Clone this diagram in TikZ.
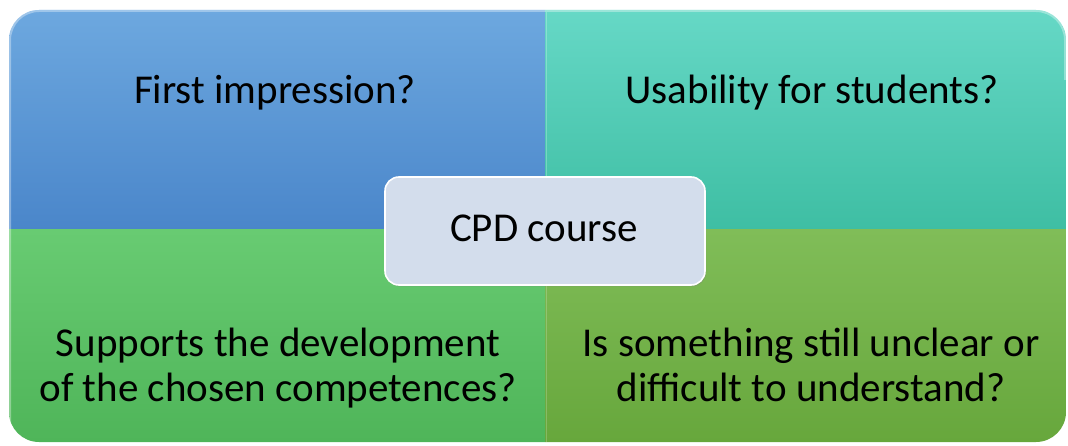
\documentclass[tikz,border=0pt]{standalone}
\usepackage{fontspec}
\setmainfont{Carlito}
\usetikzlibrary{shadows}

\definecolor{tlTop}{HTML}{6DA8DF}
\definecolor{tlBot}{HTML}{4A86CA}
\definecolor{trTop}{HTML}{66D8C6}
\definecolor{trBot}{HTML}{3EBEA3}
\definecolor{blTop}{HTML}{68CB72}
\definecolor{blBot}{HTML}{4FB559}
\definecolor{brTop}{HTML}{80BD58}
\definecolor{brBot}{HTML}{67A73C}
\definecolor{hubFill}{HTML}{D3DDEC}

\begin{document}
\begin{tikzpicture}[x=1pt,y=-1pt,
  label/.style={font=\fontsize{41}{45}\selectfont, text=black, align=center, inner sep=0pt},
  hub/.style={draw=white, line width=1.6pt, fill=hubFill, rounded corners=14pt,
    minimum width=320pt, minimum height=108pt, inner sep=0pt,
    drop shadow={opacity=0.35, shadow xshift=1pt, shadow yshift=-1.5pt}},
  bevel/.style={line width=2pt, white, opacity=0.35}]

\useasboundingbox (0,0) rectangle (1068,446);

% four quadrants inside one rounded outline
\begin{scope}
  \clip[rounded corners=30pt] (9,10) rectangle (1066,442);
  \shade[top color=tlTop, bottom color=tlBot] (9,10) rectangle (545,230);
  \shade[top color=trTop, bottom color=trBot] (545,10) rectangle (1066,230);
  \shade[top color=blTop, bottom color=blBot] (9,230) rectangle (545,442);
  \shade[top color=brTop, bottom color=brBot] (545,230) rectangle (1066,442);
  % light bevel along top and left edges
  \draw[bevel, rounded corners=29pt] (10,442) -- (10,11) -- (1065,11) -- (1065,80);
  \draw[bevel, line width=1pt, opacity=0.25] (546,12) -- (546,229);
  \draw[bevel, line width=1pt, opacity=0.2] (546,231) -- (546,442);
\end{scope}

% quadrant questions
\node[label, anchor=base] (q1) at (275,104) {First impression?};
\node[label, anchor=base] (q2) at (812,104) {Usability for students?};
\node[label, anchor=base] (q3) at (278,401) {Supports the development\\of the chosen competences?};
\node[label, anchor=base] (q4) at (811,401) {Is something still unclear or\\difficult to understand?};

% central topic
\node[hub] (cpd) at (545,231) {};
\node[label, anchor=base] (cpdtext) at (544,242) {CPD course};

\end{tikzpicture}
\end{document}
